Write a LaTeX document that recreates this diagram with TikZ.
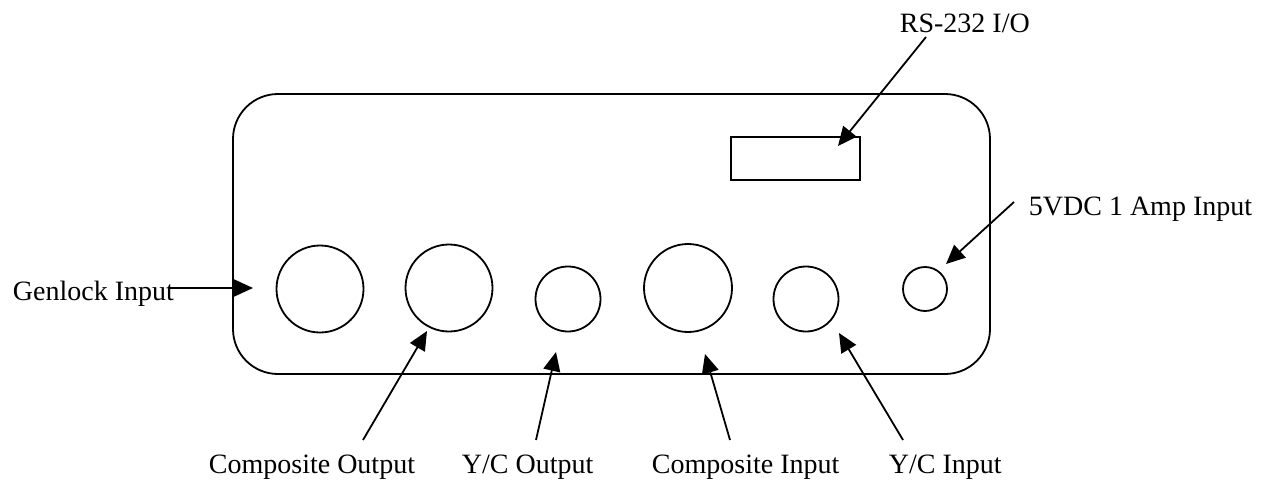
\documentclass[tikz,border=0pt]{standalone}
\usepackage{fontspec}
\setmainfont{Liberation Serif}
\usetikzlibrary{arrows.meta}
\begin{document}
\begin{tikzpicture}[x=1pt,y=-1pt,
  line width=1.8pt,
  port/.style={draw,circle,inner sep=0pt,minimum size=#1},
  lbl/.style={anchor=base west,inner sep=0pt,font=\fontsize{28}{32}\selectfont},
  conn/.style={-{Triangle[length=19pt,width=17pt]},line width=1.8pt}]
\useasboundingbox (0,0) rectangle (1267,482);
% panel
\node[draw,rounded corners=45pt,minimum width=757pt,minimum height=280pt,inner sep=0pt] (panel) at (611.5,234) {};
\node[draw,minimum width=129pt,minimum height=43pt,inner sep=0pt] (rs) at (795.5,158.5) {};
% ports
\node[port=87pt] (gen) at (320,289) {};
\node[port=87pt] (cout) at (449,288) {};
\node[port=65pt] (ycout) at (568,299) {};
\node[port=88pt] (cin) at (688,288) {};
\node[port=65pt] (ycin) at (806,299) {};
\node[port=44pt] (pwr) at (925,289) {};
% labels
\node[lbl] (lgen) at (12,300) {Genlock Input};
\node[lbl] (lrs) at (899,32) {RS-232 I/O};
\node[lbl] (lpwr) at (1028,215) {5VDC 1 Amp Input};
\node[lbl] (lcout) at (208,473) {Composite Output};
\node[lbl] (lycout) at (461,473) {Y/C Output};
\node[lbl] (lcin) at (651,473) {Composite Input};
\node[lbl] (lycin) at (888,473) {Y/C Input};
% connector ends
\coordinate (sgen) at (169,288);  \coordinate (tgen) at (253,288);
\coordinate (srs) at (926,37);    \coordinate (trs) at (838,146);
\coordinate (spwr) at (1014,202); \coordinate (tpwr) at (946,264);
\coordinate (scout) at (363,440); \coordinate (tcout) at (427,331);
\coordinate (sycout) at (536,440);\coordinate (tycout) at (556,352);
\coordinate (scin) at (730,440);  \coordinate (tcin) at (705,354);
\coordinate (sycin) at (903,440); \coordinate (tycin) at (839,333);
% connectors
\draw[conn] (sgen) -- (tgen);
\draw[conn] (srs) -- (trs);
\draw[conn] (spwr) -- (tpwr);
\draw[conn] (scout) -- (tcout);
\draw[conn] (sycout) -- (tycout);
\draw[conn] (scin) -- (tcin);
\draw[conn] (sycin) -- (tycin);
\end{tikzpicture}
\end{document}
